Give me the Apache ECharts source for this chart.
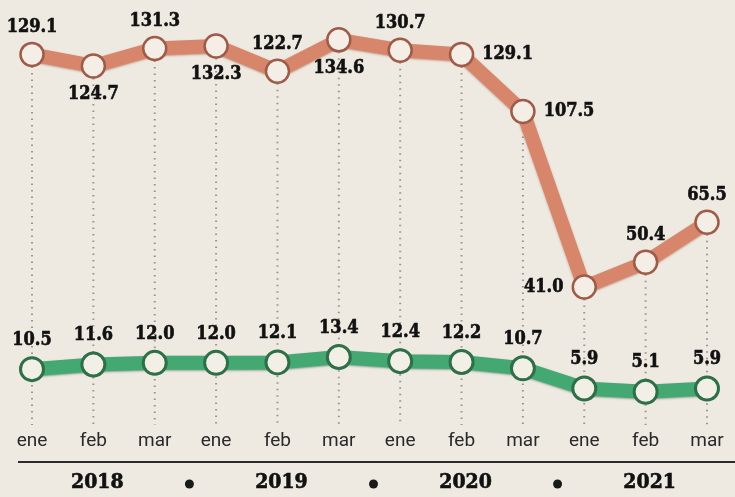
<!DOCTYPE html>
<html><head><meta charset="utf-8">
<script src="https://cdn.jsdelivr.net/npm/echarts@6/dist/echarts.min.js"></script>
<style>html,body{margin:0;padding:0;background:#eee9e1;}#c{width:735px;height:497px;}</style>
</head><body><div id="c"></div>
<script>
var months = ['ene','feb','mar','ene','feb','mar','ene','feb','mar','ene','feb','mar'];
var years = ['2018','2019','2020','2021'];
var orangeVals = [129.1,124.7,131.3,132.3,122.7,134.6,130.7,129.1,107.5,41.0,50.4,65.5];
var greenVals = [10.5,11.6,12.0,12.0,12.1,13.4,12.4,12.2,10.7,5.9,5.1,5.9];
var orangeLabelPos = ['top','bottom','top','bottom','top','bottom','top','right','right','left','top','top'];

var chart = echarts.init(document.getElementById('c'), null, {renderer:'canvas'});
var labelFont = {fontFamily:'DejaVu Serif Condensed', fontWeight:'bold', fontSize:18, color:'#111',
  textBorderColor:'#111', textBorderWidth:0.6,
  formatter:function(p){ return Number(p.value).toFixed(1); }};

var orangeData = orangeVals.map(function(v,i){
  var pos = orangeLabelPos[i];
  return {value:v, label:{position:pos, distance: (pos==='right'||pos==='left')?8:(pos==='top'?5:7)}};
});

var oMin = -11.3, oMax = 149.7;
var option = {
  backgroundColor:'#eee9e1',
  animation:false,
  grid:{left:32, right:28, top:0, bottom:72},
  xAxis:{type:'category', data:months, boundaryGap:false,
    axisLine:{show:false}, axisTick:{show:false}, splitLine:{show:false},
    axisLabel:{margin:7, fontFamily:'Roboto', fontSize:19, color:'#2a2a2a'}},
  yAxis:[
    {type:'value', min:oMin, max:oMax, show:false},
    {type:'value', min:-2.8, max:98.4, show:false}
  ],
  series:[
    {type:'custom', yAxisIndex:0, z:1, silent:true,
     data: orangeVals.map(function(v,i){return [i,v];}),
     renderItem:function(params, api){
       var p = api.coord([api.value(0), api.value(1)]);
       var b = api.coord([api.value(0), oMin]);
       return {type:'line', shape:{x1:p[0], y1:p[1]+12, x2:p[0], y2:b[1]},
         style:{stroke:'#9a958e', lineWidth:2, lineDash:[1.5,5]}};
     }},
    {type:'line', yAxisIndex:0, z:3, data:orangeData,
     lineStyle:{color:'#d8866b', width:14, shadowColor:'rgba(150,80,50,0.5)', shadowBlur:2, shadowOffsetY:1},
     symbol:'circle', symbolSize:23,
     itemStyle:{color:'#f4eee7', borderColor:'#9e5c48', borderWidth:2.5},
     label:Object.assign({show:true}, labelFont)},
    {type:'line', yAxisIndex:1, z:3, data:greenVals,
     lineStyle:{color:'#43a872', width:14, shadowColor:'rgba(30,90,50,0.5)', shadowBlur:2, shadowOffsetY:1},
     symbol:'circle', symbolSize:23,
     itemStyle:{color:'#f1efe6', borderColor:'#2f6f47', borderWidth:3},
     label:Object.assign({show:true, position:'top', distance:7}, labelFont)}
  ]
};
chart.setOption(option);

function px(i){ return chart.convertToPixel({xAxisIndex:0}, i); }
var g = [];
g.push({type:'line', shape:{x1:18, y1:462, x2:735, y2:462}, style:{stroke:'#2b2b2b', lineWidth:2}});
years.forEach(function(y,k){
  g.push({type:'text', x:px(3*k+1)+4, y:483, style:{text:y, fill:'#111', stroke:'#111', lineWidth:0.6, font:'bold 21px "DejaVu Serif Condensed"', textAlign:'center', textVerticalAlign:'middle'}});
  if(k<years.length-1){
    g.push({type:'circle', shape:{cx:(px(3*k+2)+px(3*k+3))/2+4, cy:484, r:4.5}, style:{fill:'#1a1a1a'}});
  }
});
chart.setOption({graphic:g});
</script></body></html>
